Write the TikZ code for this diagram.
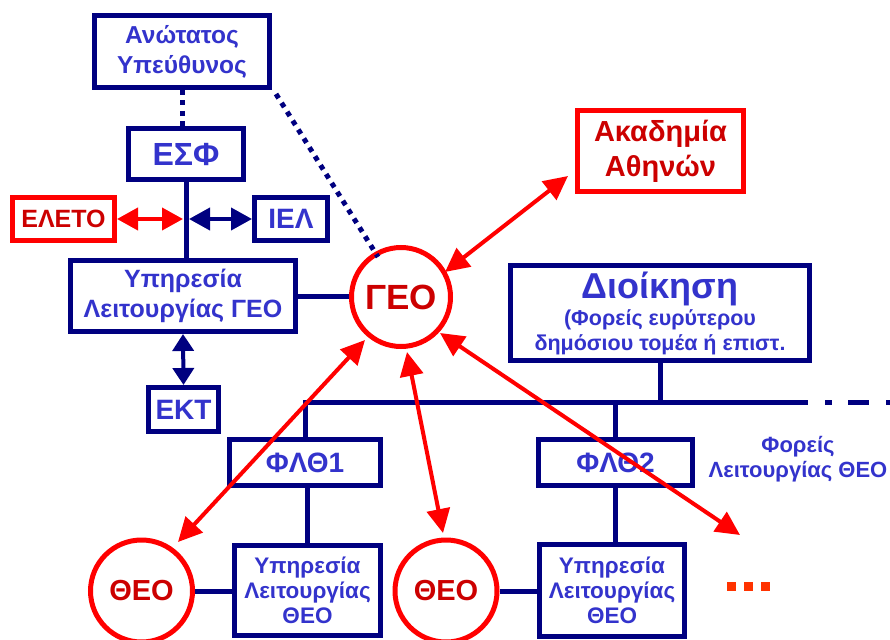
\documentclass[tikz,border=0pt]{standalone}
\usepackage{fontspec}
\setmainfont{Liberation Sans}
\usetikzlibrary{arrows.meta,calc}
\definecolor{navy}{RGB}{0,0,128}
\definecolor{tblue}{RGB}{51,51,204}
\definecolor{dred}{RGB}{204,0,0}
\definecolor{dotred}{RGB}{255,51,0}
\begin{document}
\begin{tikzpicture}[x=1pt,y=-1pt,
  nbox/.style={draw=navy,line width=5pt,text=tblue,align=center,inner sep=0pt},
  rbox/.style={draw=red,line width=5pt,text=dred,align=center,inner sep=0pt},
  rcirc/.style={circle,draw=red,line width=5pt,text=dred,inner sep=0pt},
  nline/.style={draw=navy,line width=5pt},
  dotline/.style={draw=navy,line width=5pt,dash pattern=on 5pt off 5.5pt},
  jarrow/.style={line width=4pt,{Triangle[length=21pt,width=22pt]}-{Triangle[length=21pt,width=22pt]}},
  ektarrow/.style={draw=navy,line width=4pt,{Triangle[length=17pt,width=21pt]}-{Triangle[length=17pt,width=21pt]}},
  garrow/.style={draw=red,line width=4pt,{Triangle[length=24pt,width=23pt]}-{Triangle[length=24pt,width=23pt]}}
]
\clip (0,0) rectangle (890,639);
\fill[white] (0,0) rectangle (890,639);

% boxes
\node[nbox,minimum width=175pt,minimum height=72pt,font=\bfseries\fontsize{24.5}{30}\selectfont] (anot) at (182,51.5) {Ανώτατος\\Υπεύθυνος};
\node[nbox,minimum width=115pt,minimum height=51pt,font=\bfseries\fontsize{32}{36}\selectfont] (esf) at (186,154) {ΕΣΦ};
\node[rbox,minimum width=102pt,minimum height=43pt,font=\bfseries\fontsize{25}{30}\selectfont] (eleto) at (63.5,219) {ΕΛΕΤΟ};
\node[nbox,minimum width=73pt,minimum height=43pt,font=\bfseries\fontsize{28}{32}\selectfont] (iel) at (291,219) {ΙΕΛ};
\node[nbox,minimum width=225pt,minimum height=71pt,font=\bfseries\fontsize{25}{30}\selectfont] (ypgeo) at (183,296) {Υπηρεσία\\Λειτουργίας ΓΕΟ};
\node[rcirc,minimum size=99pt,font=\bfseries\fontsize{35}{40}\selectfont] (geo) at (401,297) {ΓΕΟ};
\node[nbox,minimum width=70pt,minimum height=44pt,font=\bfseries\fontsize{28}{32}\selectfont] (ekt) at (183.5,409.5) {ΕΚΤ};
\node[rbox,minimum width=166pt,minimum height=81pt,font=\bfseries\fontsize{29}{35}\selectfont] (akad) at (660.5,151) {Ακαδημία\\Αθηνών};
\node[nbox,minimum width=299pt,minimum height=95pt,font=\bfseries\fontsize{21.5}{25}\selectfont] (dioik) at (660,313) {{\fontsize{36}{40}\selectfont Διοίκηση}\\[2pt](Φορείς ευρύτερου\\δημόσιου τομέα ή επιστ.};
\node[nbox,minimum width=151pt,minimum height=46pt,font=\bfseries\fontsize{28}{32}\selectfont] (fl1) at (305,462.5) {ΦΛΘ1};
\node[nbox,minimum width=154pt,minimum height=46pt,font=\bfseries\fontsize{28}{32}\selectfont] (fl2) at (615.5,462.5) {ΦΛΘ2};
\node[nbox,minimum width=146pt,minimum height=90pt,font=\bfseries\fontsize{22.5}{25}\selectfont] (yp1) at (307.5,590.5) {Υπηρεσία\\Λειτουργίας\\ΘΕΟ};
\node[nbox,minimum width=145pt,minimum height=92pt,font=\bfseries\fontsize{22.5}{25}\selectfont] (yp2) at (612,590) {Υπηρεσία\\Λειτουργίας\\ΘΕΟ};
\node[rcirc,minimum size=102pt,font=\bfseries\fontsize{29}{34}\selectfont] (theo1) at (141.5,591) {ΘΕΟ};
\node[rcirc,minimum size=102pt,font=\bfseries\fontsize{29}{34}\selectfont] (theo2) at (446,591) {ΘΕΟ};
\node[text=tblue,align=center,inner sep=0pt,font=\bfseries\fontsize{22}{25}\selectfont] (fth) at (798,459) {Φορείς\\Λειτουργίας ΘΕΟ};

% more dots
\fill[dotred] (727,582) rectangle +(9,9);
\fill[dotred] (744,582) rectangle +(9,9);
\fill[dotred] (761,582) rectangle +(9,9);

% navy connectors
\draw[dotline] (anot.south) -- (anot.south |- esf.north);
\draw[dotline] ([shift={(4,4)}]anot.south east) -- ([shift={(-23,-40)}]geo.center);
\draw[nline] (esf.south) -- (esf.south |- ypgeo.north);
\coordinate (j) at (esf.south |- eleto.east);
\draw[jarrow,draw=red,fill=red] (eleto.east) -- ([xshift=-3pt]j);
\draw[jarrow,draw=navy,fill=navy] ([xshift=3pt]j) -- (iel.west);
\draw[ektarrow,fill=navy] (ypgeo.south) -- (ekt.north);
\draw[nline] (ypgeo.east) -- (ypgeo.east -| geo.west);

\coordinate (bus) at (0,402);
\coordinate (busend) at (787,402);
\coordinate (busfar) at (895,402);
\draw[nline] (fl1.north) |- (busend);
\draw[nline,dash pattern=on 21pt off 17pt on 7pt off 16pt] (busend) -- (busfar);
\draw[nline] (dioik.south) -- (dioik.south |- bus);
\draw[nline] (fl2.north |- bus) -- (fl2.north);
\draw[nline] (yp1.north |- fl1.south) -- (yp1.north);
\draw[nline] (fl2.south) -- (fl2.south |- yp2.north);
\draw[nline] (theo1.east) -- (theo1.east -| yp1.west);
\draw[nline] (theo2.east) -- (theo2.east -| yp2.west);

% red arrows
\coordinate (fr) at (740,535);
\draw[garrow,fill=red] ([shift={(44,-25)}]geo.center) -- ([shift={(-92.5,25)}]akad.center);
\draw[garrow,fill=red] ([shift={(-36,43)}]geo.center) -- ([shift={(36.5,-49)}]theo1.center);
\draw[garrow,fill=red] ([shift={(6,55)}]geo.center) -- ([shift={(-3,-58)}]theo2.center);
\draw[garrow,fill=red] ([shift={(39,36)}]geo.center) -- (fr);
\end{tikzpicture}
\end{document}
